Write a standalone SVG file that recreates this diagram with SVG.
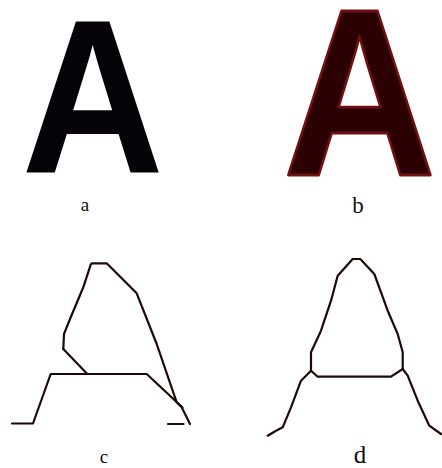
<svg xmlns="http://www.w3.org/2000/svg" width="442" height="468" viewBox="0 0 442 468">
<defs>
<style>
.lbl{font-family:"Liberation Serif","Times New Roman",serif;fill:#111;text-anchor:middle}
.big{font-family:"Liberation Sans",Arial,sans-serif;font-weight:bold;font-size:212px}
.sk{fill:none;stroke:#1e0808;stroke-width:2.2;stroke-linejoin:round;stroke-linecap:round}
</style>
</defs>
<rect width="442" height="468" fill="#fff"/>
<g id="panel-a">
<text class="big" transform="translate(21.6,173) scale(0.93,1.035)" fill="#050308">A</text>
<text class="lbl" x="85" y="211" font-size="19">a</text>
</g>
<g id="panel-b">
<text class="big" transform="translate(283,175) scale(1.0,1.125)" fill="#2c0103" stroke="#701010" stroke-width="2.5" stroke-linejoin="round">A</text>
<text class="lbl" x="358" y="213" font-size="23">b</text>
</g>
<g id="panel-c">
<polyline class="sk" points="12,423.5 33,423.5 50.7,374 146.7,374 182.5,407.5"/>
<polyline class="sk" points="168,424 183.5,424"/>
<polyline class="sk" points="63.3,349 87.3,374"/>
<polyline class="sk" points="63.3,349 64,334 70,319 83.3,287.3 90.7,264.7 91.7,263.3 106.7,263.3 136.7,293.3 156.7,344 176.7,402.3 181.7,407.3 190,424"/>
<text class="lbl" x="104" y="463" font-size="19">c</text>
</g>
<g id="panel-d">
<polyline class="sk" points="311,370.7 311,352.3 321,330.7 331,300.7 337.7,275.7 352.7,259 360.3,259 374.3,274 387.7,310.7 397.7,334 402.7,352.3 402.7,369"/>
<polyline class="sk" points="311,370.7 317.7,376.7 391,376.7 402.7,369"/>
<polyline class="sk" points="311,370.7 301,380.7 291,407.3 282.7,427.3 276,430.7 267.7,435.7"/>
<polyline class="sk" points="402.7,369 407.7,375.7 417.7,400.7 429.3,425.7 441,434"/>
<text class="lbl" x="360" y="463" font-size="25">d</text>
</g>
</svg>
